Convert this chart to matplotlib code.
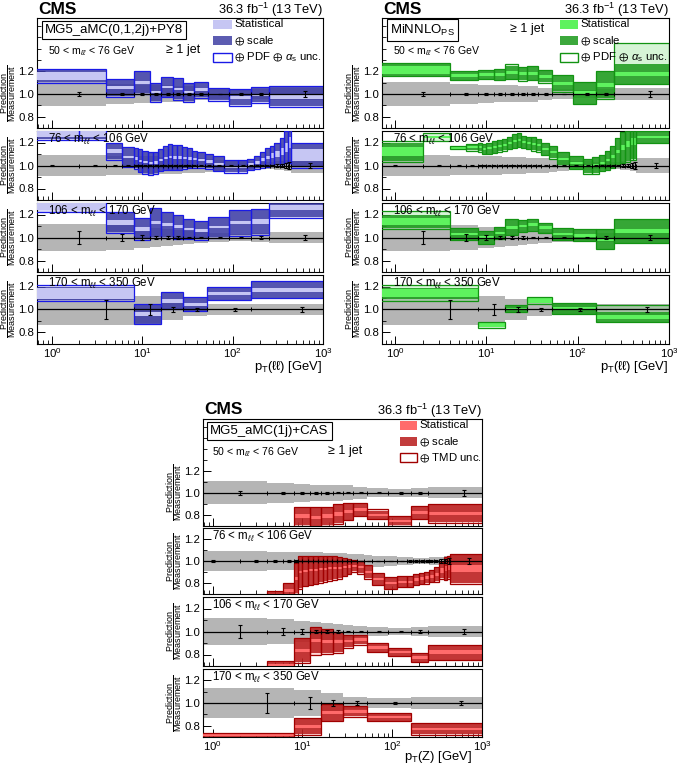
import matplotlib
matplotlib.use("Agg")
import matplotlib.pyplot as plt
from matplotlib.patches import Rectangle
from matplotlib.ticker import FixedLocator, MultipleLocator, NullFormatter
import numpy as np

plt.rcParams['font.family'] = ['Liberation Sans', 'DejaVu Sans']
plt.rcParams['mathtext.fontset'] = 'custom'
plt.rcParams['mathtext.rm'] = 'Liberation Sans'
plt.rcParams['mathtext.it'] = 'Liberation Sans:italic'
plt.rcParams['mathtext.bf'] = 'Liberation Sans:bold'
plt.rcParams['mathtext.fallback'] = 'stixsans'

W, H = 677, 765

# --- bins ---
EDGES_A = [0, 4, 8, 12, 16, 22, 28, 37, 53, 90, 160, 250, 1000]
EDGES_Z = [0, 2, 4, 6, 8, 9, 10, 11.5, 13, 15, 17, 19, 21.5, 24, 27.5, 31, 35, 40, 49,
           60, 80, 113, 145, 170, 200, 227, 257, 290, 330, 374, 407, 440, 1000]
EDGES_C = [0, 8, 16, 28, 52, 160, 1000]

MASS_LABELS = [r"50 < m$_{\ell\ell}$ < 76 GeV", r"76 < m$_{\ell\ell}$ < 106 GeV",
               r"106 < m$_{\ell\ell}$ < 170 GeV", r"170 < m$_{\ell\ell}$ < 350 GeV"]

# --- measurement: total uncertainty band and data error bars ---
GRAY_50 = [0.105, 0.092, 0.08, 0.075, 0.075, 0.072, 0.068, 0.055, 0.04, 0.035, 0.04, 0.05]
GRAY_76 = [0.095, 0.095, 0.085, 0.085, 0.08, 0.08, 0.08, 0.08, 0.08, 0.078, 0.076, 0.075,
           0.073, 0.071, 0.069, 0.067, 0.065, 0.062, 0.057, 0.05, 0.043, 0.037, 0.033, 0.03,
           0.03, 0.03, 0.032, 0.035, 0.04, 0.045, 0.05, 0.065]
GRAY_106 = [0.12, 0.105, 0.09, 0.085, 0.075, 0.065, 0.06, 0.05, 0.035, 0.03, 0.035, 0.045]
GRAY_170 = [0.135, 0.115, 0.09, 0.055, 0.045, 0.05]

DERR_50 = [0.015, 0.012, 0.01, 0.008, 0.006, 0.005, 0.005, 0.005, 0.004, 0.006, 0.012, 0.03]
DERR_76 = [0.008, 0.006, 0.006, 0.005, 0.005, 0.004, 0.004, 0.004, 0.004, 0.004, 0.004, 0.004,
           0.004, 0.004, 0.004, 0.004, 0.004, 0.004, 0.004, 0.004, 0.004, 0.004, 0.005, 0.005,
           0.006, 0.006, 0.008, 0.01, 0.015, 0.02, 0.03, 0.025]
DERR_106 = [0.055, 0.03, 0.02, 0.015, 0.01, 0.01, 0.008, 0.006, 0.005, 0.006, 0.01, 0.02]
DERR_170 = [0.085, 0.05, 0.025, 0.015, 0.01, 0.02]

# --- MG5_aMC(0,1,2j)+PY8 ---
MG5_50_CEN = [1.16, 1.055, 1.10, 1.015, 1.06, 1.045, 1.015, 1.04, 0.995, 0.97, 0.99, 0.975]
MG5_50_STAT = [0.035, 0.015, 0.012, 0.01, 0.01, 0.01, 0.01, 0.01, 0.008, 0.01, 0.012, 0.02]
MG5_50_SCL = [0.05, 0.072, 0.095, 0.08, 0.085, 0.09, 0.08, 0.07, 0.05, 0.07, 0.065, 0.085]
MG5_50_LO = [1.10, 0.977, 1.0, 0.93, 0.97, 0.95, 0.93, 0.965, 0.94, 0.895, 0.92, 0.885]
MG5_50_HI = [1.22, 1.13, 1.2, 1.10, 1.15, 1.14, 1.10, 1.11, 1.05, 1.045, 1.06, 1.07]

MG5_76_CEN = [1.28, 1.28, 1.125, 1.075, 1.06, 1.04, 1.03, 1.02, 1.025, 1.045, 1.065, 1.075,
              1.07, 1.07, 1.065, 1.06, 1.055, 1.05, 1.035, 1.015, 0.99, 0.99, 1.01, 1.025,
              1.05, 1.07, 1.085, 1.10, 1.12, 1.16, 1.20, 1.09]
MG5_76_STAT = [0.03, 0.03, 0.015, 0.01, 0.01, 0.01, 0.01, 0.01, 0.01, 0.01, 0.01, 0.01,
               0.01, 0.01, 0.01, 0.01, 0.01, 0.01, 0.01, 0.01, 0.01, 0.01, 0.012, 0.012,
               0.015, 0.015, 0.02, 0.025, 0.03, 0.04, 0.05, 0.05]
MG5_76_SCL = [0.05, 0.05, 0.07, 0.08, 0.085, 0.095, 0.095, 0.095, 0.09, 0.09, 0.10, 0.11,
              0.11, 0.11, 0.09, 0.08, 0.07, 0.065, 0.06, 0.06, 0.05, 0.05, 0.045, 0.05,
              0.065, 0.075, 0.08, 0.095, 0.115, 0.135, 0.17, 0.10]
MG5_76_LO = [1.22, 1.22, 1.05, 0.99, 0.97, 0.94, 0.93, 0.92, 0.93, 0.95, 0.96, 0.96,
             0.96, 0.965, 0.97, 0.975, 0.98, 0.98, 0.97, 0.95, 0.935, 0.935, 0.96, 0.97,
             0.98, 0.99, 1.0, 1.0, 1.0, 1.02, 1.02, 0.98]
MG5_76_HI = [1.34, 1.34, 1.20, 1.16, 1.15, 1.14, 1.13, 1.12, 1.12, 1.14, 1.17, 1.19,
             1.18, 1.18, 1.16, 1.15, 1.13, 1.12, 1.10, 1.08, 1.05, 1.05, 1.06, 1.08,
             1.12, 1.15, 1.17, 1.20, 1.24, 1.30, 1.38, 1.20]

MG5_106_CEN = [1.27, 1.13, 1.075, 1.13, 1.11, 1.095, 1.075, 1.06, 1.09, 1.13, 1.14, 1.26]
MG5_106_STAT = [0.03, 0.02, 0.015, 0.015, 0.012, 0.012, 0.01, 0.01, 0.01, 0.015, 0.02, 0.02]
MG5_106_SCL = [0.035, 0.085, 0.09, 0.125, 0.105, 0.1, 0.08, 0.075, 0.085, 0.11, 0.11, 0.085]
MG5_106_LO = [1.225, 1.04, 0.98, 1.0, 1.0, 0.99, 0.99, 0.98, 1.0, 1.01, 1.02, 1.17]
MG5_106_HI = [1.33, 1.22, 1.17, 1.26, 1.22, 1.20, 1.16, 1.14, 1.18, 1.24, 1.25, 1.35]

MG5_170_CEN = [1.14, 0.96, 1.075, 1.045, 1.14, 1.17]
MG5_170_STAT = [0.05, 0.02, 0.02, 0.015, 0.015, 0.015]
MG5_170_SCL = [0.06, 0.085, 0.07, 0.058, 0.055, 0.07]
MG5_170_LO = [1.07, 0.87, 1.0, 0.985, 1.08, 1.10]
MG5_170_HI = [1.21, 1.05, 1.15, 1.11, 1.20, 1.245]

# --- MiNNLO_PS ---
MIN_50_CEN = [1.21, 1.16, 1.17, 1.17, 1.19, 1.18, 1.18, 1.155, 1.09, 1.01, 1.08, 1.175]
MIN_50_STAT = [0.035, 0.012, 0.012, 0.012, 0.012, 0.012, 0.012, 0.012, 0.012, 0.012, 0.015, 0.02]
MIN_50_SCL = [0.05, 0.04, 0.035, 0.045, 0.06, 0.06, 0.06, 0.052, 0.068, 0.095, 0.115, 0.085]
MIN_50_LO = [1.155, 1.12, 1.135, 1.12, 1.13, 1.115, 1.12, 1.10, 1.02, 0.91, 0.96, 1.09]
MIN_50_HI = [1.27, 1.205, 1.21, 1.22, 1.26, 1.24, 1.245, 1.21, 1.165, 1.11, 1.20, 1.45]

MIN_76_CEN = [1.12, 1.245, 1.155, 1.16, 1.16, 1.145, 1.15, 1.16, 1.17, 1.18, 1.195, 1.21,
              1.22, 1.205, 1.195, 1.19, 1.175, 1.145, 1.115, 1.06, 1.025, 0.995, 1.0, 1.02,
              1.045, 1.075, 1.12, 1.155, 1.185, 1.205, 1.205, 1.25]
MIN_76_STAT = [0.04, 0.01, 0.008, 0.008, 0.008, 0.008, 0.008, 0.008, 0.008, 0.008, 0.008, 0.008,
               0.008, 0.008, 0.008, 0.008, 0.008, 0.008, 0.008, 0.008, 0.008, 0.008, 0.01, 0.01,
               0.01, 0.012, 0.015, 0.02, 0.025, 0.03, 0.03, 0.01]
MIN_76_SCL = [0.08, 0.01, 0.015, 0.028, 0.038, 0.043, 0.048, 0.048, 0.048, 0.048, 0.053, 0.058,
              0.058, 0.053, 0.053, 0.058, 0.053, 0.053, 0.053, 0.058, 0.053, 0.063, 0.068, 0.068,
              0.083, 0.093, 0.118, 0.133, 0.15, 0.15, 0.15, 0.05]
MIN_76_LO = [1.03, 1.21, 1.14, 1.13, 1.12, 1.10, 1.10, 1.11, 1.12, 1.13, 1.14, 1.15,
             1.16, 1.15, 1.14, 1.13, 1.12, 1.09, 1.06, 1.0, 0.97, 0.93, 0.93, 0.95,
             0.96, 0.98, 1.0, 1.02, 1.03, 1.05, 1.05, 1.2]
MIN_76_HI = [1.21, 1.28, 1.17, 1.19, 1.20, 1.19, 1.20, 1.21, 1.22, 1.23, 1.25, 1.27,
             1.28, 1.26, 1.25, 1.25, 1.23, 1.2, 1.17, 1.12, 1.08, 1.06, 1.07, 1.09,
             1.13, 1.17, 1.24, 1.29, 1.34, 1.36, 1.36, 1.30]

MIN_106_CEN = [1.14, 1.03, 1.0, 1.04, 1.09, 1.1, 1.11, 1.085, 1.03, 1.02, 0.985, 1.055]
MIN_106_STAT = [0.03, 0.012, 0.012, 0.012, 0.012, 0.012, 0.012, 0.012, 0.01, 0.012, 0.015, 0.015]
MIN_106_SCL = [0.06, 0.05, 0.06, 0.05, 0.07, 0.05, 0.05, 0.045, 0.05, 0.048, 0.085, 0.105]
MIN_106_LO = [1.07, 0.98, 0.94, 0.99, 1.02, 1.05, 1.06, 1.04, 0.98, 0.97, 0.90, 0.95]
MIN_106_HI = [1.23, 1.08, 1.06, 1.09, 1.16, 1.155, 1.16, 1.13, 1.08, 1.07, 1.07, 1.16]

MIN_170_CEN = [1.14, 0.87, 1.005, 1.08, 1.01, 0.935]
MIN_170_STAT = [0.035, 0.02, 0.01, 0.02, 0.01, 0.02]
MIN_170_SCL = [0.05, 0.02, 0.03, 0.015, 0.045, 0.045]
MIN_170_LO = [1.07, 0.84, 0.975, 1.05, 0.965, 0.89]
MIN_170_HI = [1.21, 0.895, 1.04, 1.11, 1.06, 1.04]

# --- MG5_aMC(1j)+CAS ---
CAS_50_CEN = [0.55, 0.60, 0.79, 0.78, 0.79, 0.81, 0.83, 0.85, 0.80, 0.745, 0.82, 0.815]
CAS_50_STAT = [0.01, 0.01, 0.015, 0.015, 0.015, 0.015, 0.015, 0.015, 0.012, 0.012, 0.015, 0.015]
CAS_50_SCL = [0.04, 0.04, 0.08, 0.085, 0.08, 0.085, 0.075, 0.055, 0.04, 0.04, 0.055, 0.08]
CAS_50_LO = [0.50, 0.55, 0.70, 0.69, 0.70, 0.72, 0.75, 0.79, 0.76, 0.70, 0.76, 0.73]
CAS_50_HI = [0.60, 0.65, 0.875, 0.87, 0.875, 0.895, 0.91, 0.91, 0.85, 0.79, 0.88, 0.90]

CAS_76_CEN = [0.50, 0.55, 0.68, 0.73, 0.84, 0.90, 0.91, 0.915, 0.92, 0.925, 0.93, 0.935,
              0.94, 0.94, 0.945, 0.95, 0.955, 0.945, 0.90, 0.835, 0.80, 0.81, 0.81, 0.83,
              0.84, 0.85, 0.86, 0.88, 0.915, 0.93, 0.945, 0.93]
CAS_76_STAT = [0.01, 0.01, 0.015, 0.015, 0.012, 0.01, 0.01, 0.01, 0.01, 0.01, 0.01, 0.01,
               0.01, 0.01, 0.01, 0.01, 0.01, 0.01, 0.01, 0.01, 0.01, 0.01, 0.01, 0.012,
               0.012, 0.012, 0.015, 0.015, 0.02, 0.025, 0.03, 0.03]
CAS_76_SCL = [0.04, 0.04, 0.045, 0.065, 0.135, 0.145, 0.135, 0.13, 0.125, 0.12, 0.115, 0.11,
              0.105, 0.095, 0.08, 0.065, 0.05, 0.055, 0.055, 0.05, 0.05, 0.045, 0.05, 0.05,
              0.05, 0.05, 0.05, 0.065, 0.07, 0.10, 0.10, 0.13]
CAS_76_LO = [0.45, 0.50, 0.63, 0.66, 0.70, 0.75, 0.77, 0.78, 0.79, 0.80, 0.81, 0.82,
             0.83, 0.84, 0.86, 0.88, 0.90, 0.885, 0.84, 0.78, 0.75, 0.76, 0.76, 0.78,
             0.79, 0.795, 0.81, 0.81, 0.84, 0.825, 0.84, 0.795]
CAS_76_HI = [0.55, 0.60, 0.73, 0.80, 0.98, 1.05, 1.05, 1.05, 1.05, 1.05, 1.05, 1.05,
             1.05, 1.04, 1.03, 1.02, 1.01, 1.00, 0.96, 0.89, 0.855, 0.86, 0.865, 0.885,
             0.89, 0.90, 0.915, 0.945, 0.99, 1.035, 1.05, 1.065]

CAS_106_CEN = [0.55, 0.71, 0.835, 0.92, 0.91, 0.91, 0.915, 0.93, 0.86, 0.82, 0.775, 0.82]
CAS_106_STAT = [0.01, 0.01, 0.015, 0.015, 0.012, 0.012, 0.01, 0.01, 0.01, 0.01, 0.012, 0.015]
CAS_106_SCL = [0.04, 0.025, 0.1, 0.11, 0.1, 0.09, 0.05, 0.04, 0.04, 0.035, 0.04, 0.065]
CAS_106_LO = [0.50, 0.68, 0.73, 0.80, 0.805, 0.815, 0.86, 0.885, 0.82, 0.785, 0.735, 0.75]
CAS_106_HI = [0.60, 0.74, 0.94, 1.035, 1.02, 1.00, 0.97, 0.97, 0.90, 0.855, 0.815, 0.885]

CAS_170_CEN = [0.715, 0.795, 0.915, 0.925, 0.875, 0.77]
CAS_170_STAT = [0.008, 0.015, 0.015, 0.01, 0.01, 0.012]
CAS_170_SCL = [0.018, 0.07, 0.07, 0.04, 0.03, 0.045]
CAS_170_LO = [0.695, 0.72, 0.845, 0.88, 0.84, 0.72]
CAS_170_HI = [0.735, 0.87, 0.99, 0.97, 0.91, 0.82]

GRAY = "#b5b5b5"
BLUE = dict(stat="#c6c6f3", scale=(0.2, 0.2, 0.62, 0.8), faint=(0.6, 0.6, 0.93, 0.35), edge="#1a1ae6")
GREEN = dict(stat="#5ef25e", scale=(0.1, 0.6, 0.1, 0.85), faint=(0.55, 0.88, 0.55, 0.35), edge="#129312")
RED = dict(stat="#ff6b6b", scale=(0.72, 0.1, 0.1, 0.85), faint=(1.0, 0.55, 0.55, 0.35), edge="#a00000")


def fx(x):
    return x / W


def fy(y):
    return 1 - y / H


def draw_panel(ax, edges, gray, derr, cen, stat, scl, lo, hi, col):
    e = np.array(edges, dtype=float)
    left = np.maximum(e[:-1], 0.3)
    width = e[1:] - left
    gray, derr = np.array(gray), np.array(derr)
    cen, stat, scl = np.array(cen), np.array(stat), np.array(scl)
    lo, hi = np.array(lo), np.array(hi)
    ax.bar(left, 2 * gray, width, bottom=1 - gray, align='edge', color=GRAY, lw=0, zorder=1)
    ax.bar(left, hi - lo, width, bottom=lo, align='edge', color=col['faint'], lw=0, zorder=2)
    ax.bar(left, 2 * scl, width, bottom=cen - scl, align='edge', color=col['scale'], lw=0, zorder=3)
    ax.bar(left, 2 * stat, width, bottom=cen - stat, align='edge', color=col['stat'], lw=0, zorder=4)
    ax.bar(left, hi - lo, width, bottom=lo, align='edge', facecolor='none',
           edgecolor=col['edge'], lw=0.9, zorder=5)
    ax.axhline(1.0, color='black', lw=0.9, zorder=6)
    centers = (e[:-1] + e[1:]) / 2
    ax.errorbar(centers, np.ones_like(centers), yerr=derr, fmt='none', ecolor='black',
                elinewidth=0.8, capsize=1.3, capthick=0.8, zorder=7)
    ax.plot(e[1:-1], np.ones(len(e) - 2), '|', ms=2.2, mew=0.7, color='black', zorder=7)


def style_axes(ax, ylim, xmin, last, width_px):
    ax.set_xscale('log')
    ax.set_xlim(xmin, 1000)
    ax.set_ylim(*ylim)
    ax.yaxis.set_major_locator(FixedLocator([0.8, 1.0, 1.2]))
    ax.yaxis.set_minor_locator(MultipleLocator(0.1))
    ax.tick_params(which='both', direction='in', top=False, right=False, labelsize=8.2, pad=2)
    ax.tick_params(axis='x', pad=1.5)
    ax.tick_params(which='major', length=6, width=0.7)
    ax.tick_params(which='minor', length=3, width=0.6)
    if not last:
        ax.xaxis.set_major_formatter(NullFormatter())
    ax.xaxis.set_minor_formatter(NullFormatter())
    for s in ax.spines.values():
        s.set_linewidth(0.8)
    ax.text(-28.5 / width_px, 1.0, r"$\dfrac{\mathrm{Prediction}}{\mathrm{Measurement}}$",
            transform=ax.get_yaxis_transform(), rotation=90, ha='center', va='center',
            fontsize=6.5)


fig = plt.figure(figsize=(W / 100, H / 100), dpi=100)

UNC_PDF = r"$\oplus$ PDF $\oplus$ $\alpha_\mathrm{s}$ unc."

groups = [
    dict(L=37, R=323, rows=[(18, 128), (131, 200), (203, 272), (275, 344)], xmin=0.68,
         col=BLUE, xlabel=r"p$_\mathrm{T}$(ℓℓ) [GeV]", xl_y=367, xl_dx=1,
         model="MG5_aMC(0,1,2j)+PY8", model_xy=(45, 30), jet_xy=(166, 50), mass_x=48,
         leg_x=213, leg_w=19, unc=UNC_PDF,
         data=[(EDGES_A, GRAY_50, DERR_50, MG5_50_CEN, MG5_50_STAT, MG5_50_SCL, MG5_50_LO, MG5_50_HI),
               (EDGES_Z, GRAY_76, DERR_76, MG5_76_CEN, MG5_76_STAT, MG5_76_SCL, MG5_76_LO, MG5_76_HI),
               (EDGES_A, GRAY_106, DERR_106, MG5_106_CEN, MG5_106_STAT, MG5_106_SCL, MG5_106_LO, MG5_106_HI),
               (EDGES_C, GRAY_170, DERR_170, MG5_170_CEN, MG5_170_STAT, MG5_170_SCL, MG5_170_LO, MG5_170_HI)]),
    dict(L=382, R=669, rows=[(18, 128), (131, 200), (203, 272), (275, 344)], xmin=0.72,
         col=GREEN, xlabel=r"p$_\mathrm{T}$(ℓℓ) [GeV]", xl_y=367, xl_dx=1,
         model=r"MiNNLO$_\mathrm{PS}$", model_xy=(390, 30), jet_xy=(510, 29), mass_x=393,
         leg_x=560, leg_w=18, unc=UNC_PDF,
         data=[(EDGES_A, GRAY_50, DERR_50, MIN_50_CEN, MIN_50_STAT, MIN_50_SCL, MIN_50_LO, MIN_50_HI),
               (EDGES_Z, GRAY_76, DERR_76, MIN_76_CEN, MIN_76_STAT, MIN_76_SCL, MIN_76_LO, MIN_76_HI),
               (EDGES_A, GRAY_106, DERR_106, MIN_106_CEN, MIN_106_STAT, MIN_106_SCL, MIN_106_LO, MIN_106_HI),
               (EDGES_C, GRAY_170, DERR_170, MIN_170_CEN, MIN_170_STAT, MIN_170_SCL, MIN_170_LO, MIN_170_HI)]),
    dict(L=203, R=482, rows=[(419, 526), (528, 594), (597, 666), (669, 737)], xmin=0.78,
         col=RED, xlabel=r"p$_\mathrm{T}$(Z) [GeV]", xl_y=757, xl_dx=10,
         model="MG5_aMC(1j)+CAS", model_xy=(210, 431), jet_xy=(328, 451), mass_x=212,
         leg_x=400, leg_w=17, unc=r"$\oplus$ TMD unc.",
         data=[(EDGES_A, GRAY_50, DERR_50, CAS_50_CEN, CAS_50_STAT, CAS_50_SCL, CAS_50_LO, CAS_50_HI),
               (EDGES_Z, GRAY_76, DERR_76, CAS_76_CEN, CAS_76_STAT, CAS_76_SCL, CAS_76_LO, CAS_76_HI),
               (EDGES_A, GRAY_106, DERR_106, CAS_106_CEN, CAS_106_STAT, CAS_106_SCL, CAS_106_LO, CAS_106_HI),
               (EDGES_C, GRAY_170, DERR_170, CAS_170_CEN, CAS_170_STAT, CAS_170_SCL, CAS_170_LO, CAS_170_HI)]),
]

for g in groups:
    L, R = g['L'], g['R']
    top0 = g['rows'][0][0]
    for i, (t, b) in enumerate(g['rows']):
        ax = fig.add_axes([fx(L), fy(b), (R - L) / W, (b - t) / H])
        draw_panel(ax, *g['data'][i], g['col'])
        style_axes(ax, (0.7, 1.67) if i == 0 else (0.7, 1.3), g['xmin'], i == 3, R - L)
        if i == 0:
            fig.text(fx(g['mass_x']), fy(t + 33), MASS_LABELS[i], fontsize=7.6,
                     ha='left', va='center', zorder=10)
        else:
            fig.text(fx(g['mass_x']), fy(t + 8), MASS_LABELS[i], fontsize=8.3,
                     ha='left', va='center', zorder=10)
    # header
    fig.text(fx(L + 1), fy(top0 - 9), "CMS", fontsize=12.5, fontweight='bold', ha='left', va='center')
    fig.text(fx(R), fy(top0 - 8), r"36.3 fb$^{-1}$ (13 TeV)", fontsize=9.3, ha='right', va='center')
    fig.text(fx(g['model_xy'][0]), fy(g['model_xy'][1]), g['model'], fontsize=9.5, ha='left',
             va='center', bbox=dict(boxstyle='square,pad=0.25', fc='white', ec='black', lw=0.8))
    fig.text(fx(g['jet_xy'][0]), fy(g['jet_xy'][1]), "≥ 1 jet", fontsize=9, ha='left', va='center')
    fig.text(fx(R - g['xl_dx']), fy(g['xl_y']), g['xlabel'], fontsize=9.4, ha='right', va='center')
    # legend
    col = g['col']
    entries = [("Statistical", dict(fc=col['stat'], ec='none')),
               (r"$\oplus$ scale", dict(fc=col['scale'], ec='none')),
               (g['unc'], dict(fc='white', ec=col['edge'], lw=1.0))]
    for k, (lab, sty) in enumerate(entries):
        yc = top0 + 6 + 16.5 * k
        fig.patches.append(Rectangle((fx(g['leg_x']), fy(yc + 4.5)), g['leg_w'] / W, 9 / H,
                                     transform=fig.transFigure, **sty))
        fig.text(fx(g['leg_x'] + g['leg_w'] + 2), fy(yc), lab, fontsize=8.2, ha='left', va='center')

fig.savefig("out.png", dpi=100)
